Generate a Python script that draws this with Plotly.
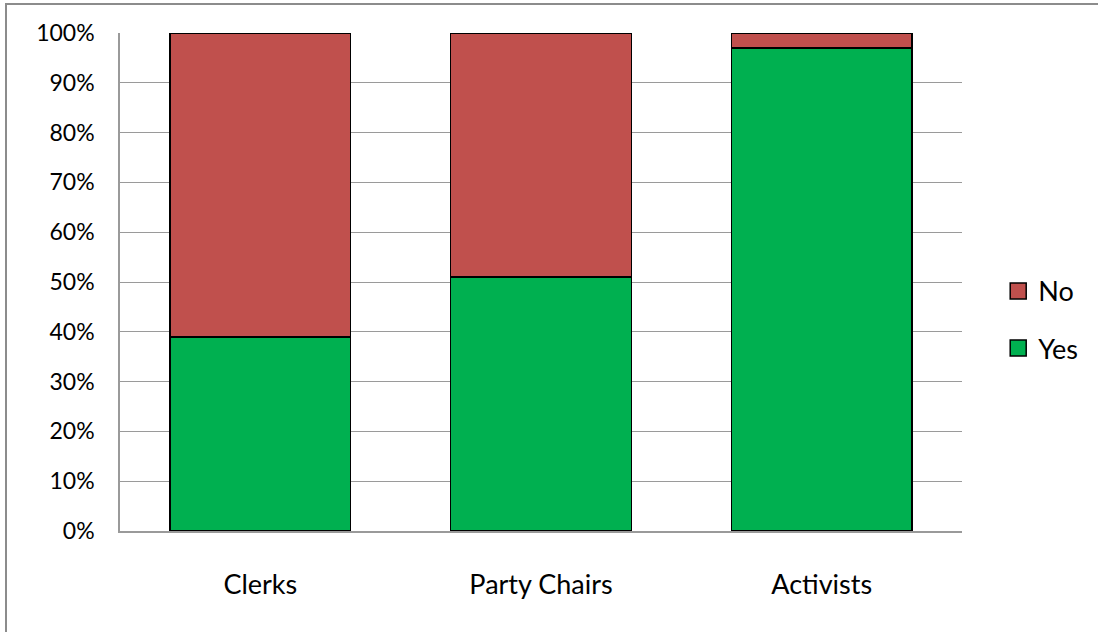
import plotly.graph_objects as go

categories = ["Clerks", "Party Chairs", "Activists"]
yes_pct = [39, 51, 97]
no_pct = [61, 49, 3]
tick_vals = [0, 10, 20, 30, 40, 50, 60, 70, 80, 90, 100]
tick_text = ["0%", "10%", "20%", "30%", "40%", "50%", "60%", "70%", "80%", "90%", "100%"]

GREEN = "#00B050"
RED = "#C0504D"
GRID = "#9a9a9a"
FONT = "Lato, Open Sans, sans-serif"

fig = go.Figure()

fig.add_trace(go.Bar(
    x=categories, y=yes_pct, name="Yes", legendgroup="yes", showlegend=False,
    marker=dict(color=GREEN, line=dict(color="black", width=1.5)),
))
fig.add_trace(go.Bar(
    x=categories, y=no_pct, name="No", legendgroup="no", showlegend=False,
    marker=dict(color=RED, line=dict(color="black", width=1.5)),
))

# legend entries with larger square swatches
for name, color, grp in [("No", RED, "no"), ("Yes", GREEN, "yes")]:
    fig.add_trace(go.Scatter(
        x=[None], y=[None], mode="markers", name=name, legendgroup=grp,
        marker=dict(symbol="square", size=16, color=color,
                    line=dict(color="black", width=1.5)),
    ))

fig.update_layout(
    width=1098, height=632,
    barmode="stack", bargap=0.356,
    paper_bgcolor="white", plot_bgcolor="white",
    margin=dict(l=120, r=136, t=33, b=101),
    font=dict(family=FONT, size=24, color="black"),
    legend=dict(
        x=1.043, xanchor="left", y=0.424, yanchor="middle",
        traceorder="grouped", tracegroupgap=19,
        font=dict(family=FONT, size=27, color="black"),
        itemwidth=30, bgcolor="rgba(0,0,0,0)",
    ),
    xaxis=dict(
        showgrid=False, showline=True, linecolor=GRID, linewidth=1.5,
        ticks="", ticklabelstandoff=29,
        tickfont=dict(family=FONT, size=27),
    ),
    yaxis=dict(
        range=[0, 100], tickvals=tick_vals, ticktext=tick_text,
        showgrid=True, gridcolor=GRID, gridwidth=1.3,
        showline=True, linecolor=GRID, linewidth=1.5,
        zeroline=False, ticks="", ticklabelstandoff=19,
        tickfont=dict(family=FONT, size=23),
    ),
    shapes=[dict(
        type="rect", xref="paper", yref="paper",
        x0=(6 - 120) / 842, x1=(1110 - 120) / 842,
        y0=(531 - 640) / 498, y1=(531 - 4) / 498,
        line=dict(color="#8c8c8c", width=2), fillcolor="rgba(0,0,0,0)",
        layer="below",
    )],
)

fig.write_html("out.html")
